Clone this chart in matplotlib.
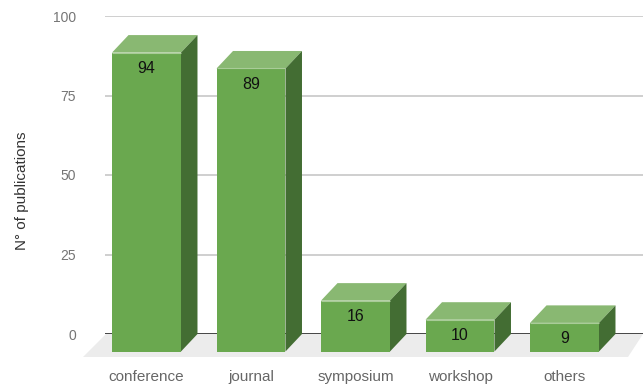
import matplotlib
matplotlib.use("Agg")
import matplotlib.pyplot as plt
from matplotlib.patches import Polygon

categories = ["conference", "journal", "symposium", "workshop", "others"]
values = [94, 89, 16, 10, 9]
yticks = [0, 25, 50, 75, 100]

plt.rcParams['font.family'] = ['Liberation Sans', 'DejaVu Sans']

W, H = 643, 384
fig = plt.figure(figsize=(W / 100, H / 100), dpi=100)
ax = fig.add_axes([105 / W, 50 / H, 538 / W, 318 / H])

px_x = 104.5   # pixels per category unit
px_y = 3.18    # pixels per value unit
x_left = (105 - 146.5) / px_x
x_right = (643 - 146.5) / px_x
ax.set_xlim(x_left, x_right)
ax.set_ylim(0, 100)

ddx = 16.5 / px_x
ddy = 17.5 / px_y
half = 0.33

front_c = "#6aa84f"
top_c = "#89b872"
side_c = "#436d33"

# floor
fdy = 23 / px_y
fdx = 22 / px_x
floor = Polygon([(x_left + 1 / px_x, 0), (x_right, 0),
                 (x_right - 15 / px_x, -fdy), (x_left - fdx, -fdy)],
                closed=True, facecolor="#ececec", edgecolor="none",
                clip_on=False, zorder=0)
ax.add_patch(floor)

# gridlines
for t in yticks[1:]:
    ax.axhline(t, color="#cccccc", lw=1.3, zorder=1)
ax.axhline(0, color="#333333", lw=2, zorder=1.5)

for i, v in enumerate(values):
    x0, x1 = i - half, i + half
    top = Polygon([(x0, v - ddy), (x1, v - ddy), (x1 + ddx, v), (x0 + ddx, v)],
                  closed=True, facecolor=top_c, edgecolor="none", clip_on=False, zorder=3)
    side = Polygon([(x1, -ddy), (x1 + ddx, 0), (x1 + ddx, v), (x1, v - ddy)],
                   closed=True, facecolor=side_c, edgecolor="none", clip_on=False, zorder=3)
    front = Polygon([(x0, -ddy), (x1, -ddy), (x1, v - ddy), (x0, v - ddy)],
                    closed=True, facecolor=front_c, edgecolor="none", clip_on=False, zorder=4)
    for p in (top, side, front):
        ax.add_patch(p)
    ax.plot([x0, x1], [v - ddy, v - ddy], color="#a9cc98", lw=0.8, zorder=5,
            clip_on=False, solid_capstyle="butt")
    ax.text(i, v - ddy - 16 / px_y, str(v), ha="center", va="center",
            fontsize=11.5, color="#111111", zorder=6, clip_on=False)

ax.set_yticks(yticks)
ax.set_yticklabels([str(t) for t in yticks])
ax.set_xticks(range(len(categories)))
ax.set_xticklabels(categories)
ax.tick_params(axis="y", length=0, pad=21, labelsize=10, labelcolor="#757575")
ax.tick_params(axis="x", length=0, pad=26, labelsize=11, labelcolor="#666666")
for s in ax.spines.values():
    s.set_visible(False)
ax.set_ylabel("N° of publications", fontsize=11, color="#333333")
ax.yaxis.set_label_coords(-(105 - 29) / 538, (334 - 191) / 318)

fig.savefig("out.png", dpi=100)
